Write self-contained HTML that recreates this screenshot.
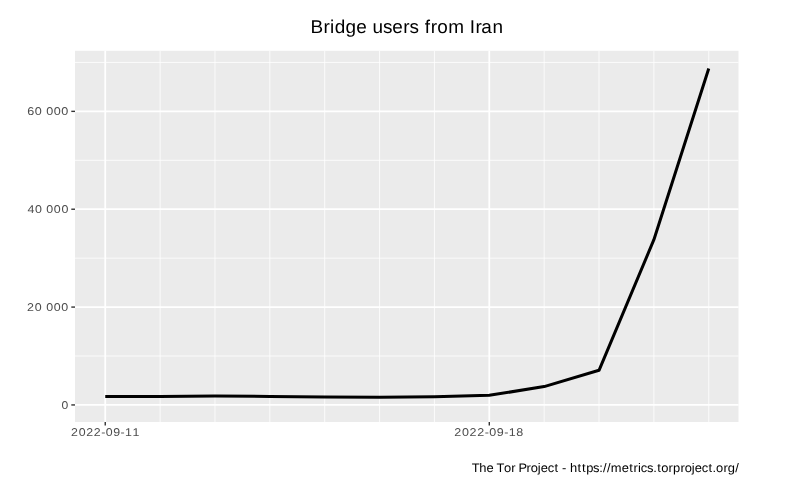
<!DOCTYPE html>
<html><head><meta charset="utf-8"><style>
html,body{margin:0;padding:0;background:#fff;overflow:hidden;}
svg{display:block;will-change:transform;}
text{font-family:"Liberation Sans",sans-serif;text-rendering:geometricPrecision;white-space:pre;}
.mn{stroke:#fff;stroke-width:0.8;}
.mj{stroke:#fff;stroke-width:1.75;}
.tk{stroke:#333;stroke-width:1.4;}
.ax{font-size:11.3px;fill:#4D4D4D;}
.ti{font-size:18.5px;fill:#000;}
.cap{font-size:12.4px;fill:#000;}
</style></head><body>
<svg width="805" height="483" viewBox="0 0 805 483">
<rect width="805" height="483" fill="#fff"/>
<rect x="75" y="50.8" width="663.5" height="371.2" fill="#EBEBEB"/>
<line x1="75" x2="738.5" y1="356.01" y2="356.01" class="mn"/>
<line x1="75" x2="738.5" y1="258.15" y2="258.15" class="mn"/>
<line x1="75" x2="738.5" y1="160.29" y2="160.29" class="mn"/>
<line x1="75" x2="738.5" y1="62.43" y2="62.43" class="mn"/>
<line x1="160.114" x2="160.114" y1="50.8" y2="422" class="mn"/>
<line x1="214.979" x2="214.979" y1="50.8" y2="422" class="mn"/>
<line x1="269.843" x2="269.843" y1="50.8" y2="422" class="mn"/>
<line x1="324.707" x2="324.707" y1="50.8" y2="422" class="mn"/>
<line x1="379.571" x2="379.571" y1="50.8" y2="422" class="mn"/>
<line x1="434.436" x2="434.436" y1="50.8" y2="422" class="mn"/>
<line x1="544.164" x2="544.164" y1="50.8" y2="422" class="mn"/>
<line x1="599.029" x2="599.029" y1="50.8" y2="422" class="mn"/>
<line x1="653.893" x2="653.893" y1="50.8" y2="422" class="mn"/>
<line x1="708.757" x2="708.757" y1="50.8" y2="422" class="mn"/>
<line x1="75" x2="738.5" y1="404.94" y2="404.94" class="mj"/>
<line x1="75" x2="738.5" y1="307.08" y2="307.08" class="mj"/>
<line x1="75" x2="738.5" y1="209.22" y2="209.22" class="mj"/>
<line x1="75" x2="738.5" y1="111.36" y2="111.36" class="mj"/>
<line x1="105.25" x2="105.25" y1="50.8" y2="422" class="mj"/>
<line x1="489.3" x2="489.3" y1="50.8" y2="422" class="mj"/>
<polyline points="105.25,396.4 160.114,396.4 214.979,395.9 269.843,396.4 324.707,397 379.571,397.3 434.436,396.8 489.3,395.35 544.164,386.6 599.029,370.3 653.893,239.7 708.757,68.5" fill="none" stroke="#000" stroke-width="3.0" stroke-linejoin="round" stroke-linecap="butt"/>
<line x1="71.3" x2="75" y1="404.94" y2="404.94" class="tk"/>
<line x1="71.3" x2="75" y1="307.08" y2="307.08" class="tk"/>
<line x1="71.3" x2="75" y1="209.22" y2="209.22" class="tk"/>
<line x1="71.3" x2="75" y1="111.36" y2="111.36" class="tk"/>
<line x1="105.25" x2="105.25" y1="422" y2="425.4" class="tk"/>
<line x1="489.3" x2="489.3" y1="422" y2="425.4" class="tk"/>
<text class="ax" transform="scale(1.074,1)" y="408.89" x="57.171">0</text>
<text class="ax" transform="scale(1.104,1)" y="311.03" x="24.535 31.547 38.127 41.849 48.719 55.589">20 000</text>
<text class="ax" transform="scale(1.104,1)" y="213.17" x="24.919 31.739 38.294 41.967 48.787 55.607">40 000</text>
<text class="ax" transform="scale(1.117,1)" y="115.31" x="24.378 31.15 37.682 41.307 48.08 54.853">60 000</text>
<text class="ax" transform="scale(1.095,1)" y="436" x="64.872 71.918 78.678 85.581 92.397 96.542 103.411 110.118 114.207 121.11">2022-09-11</text>
<text class="ax" transform="scale(1.108,1)" y="436" x="410.06 417.066 423.788 430.653 437.437 441.552 448.382 455.059 459.117 466.038">2022-09-18</text>
<text class="ti" transform="scale(1.024,1)" y="32.85" x="303.254 315.867 322.368 326.818 337.443 348.03 358.29 363.735 374.077 382.98 393.899 399.979 408.842 414.747 420.716 426.919 437.672 453.486 458.705 464.404 469.959 481.079">Bridge users from Iran</text>
<text class="cap" transform="scale(1.042,1)" y="471.8" x="452.831 459.961 466.792 473.573 476.589 483.596 490.744 494.864 497.653 505.275 509.287 516.167 519.031 525.574 532.194 536.088 539.459 543.492 546.974 554.258 558.535 562.501 569.176 575.155 578.828 582.503 586.241 596.621 603.786 608.044 612.308 614.957 621.016 626.883 630.729 634.514 641.661 645.854 653.071 657.084 663.963 666.828 673.371 679.99 683.89 687.244 694.391 698.471 705.551">The Tor Project - https://metrics.torproject.org/</text>
</svg>
</body></html>
